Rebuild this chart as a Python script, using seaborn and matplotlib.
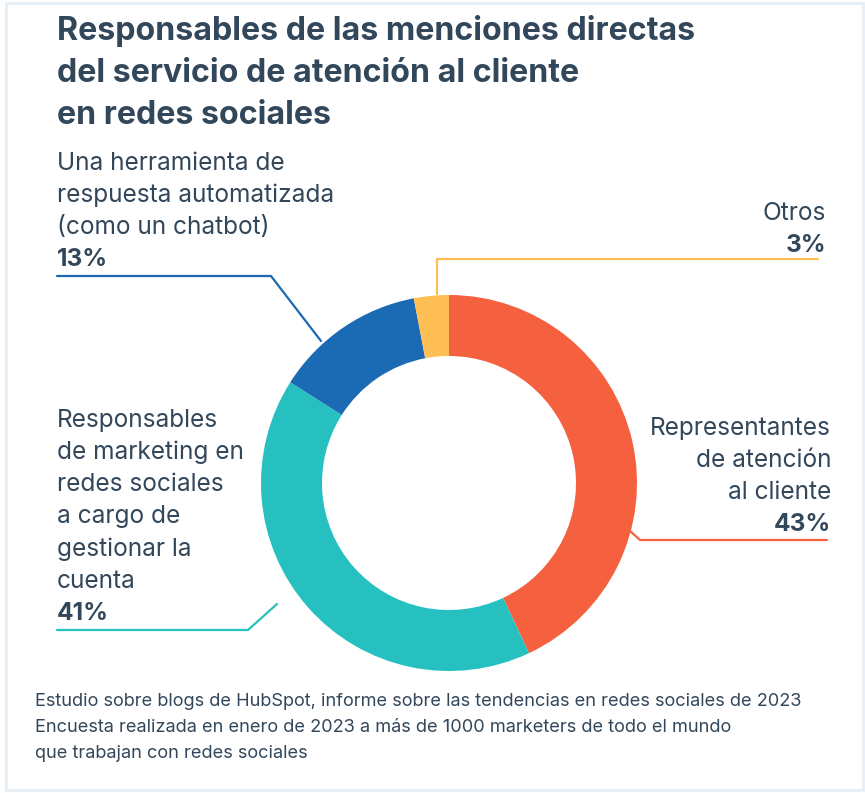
import matplotlib
matplotlib.use("Agg")
import matplotlib.pyplot as plt
import seaborn as sns
from matplotlib.patches import Rectangle

# datos del gráfico
categorias = ["Representantes de atención al cliente",
              "Responsables de marketing en redes sociales a cargo de gestionar la cuenta",
              "Una herramienta de respuesta automatizada (como un chatbot)",
              "Otros"]
valores = [43, 41, 13, 3]
colores = ["#F5603F", "#27C0C0", "#1A6AB4", "#FFBF55"]

titulo = ["Responsables de las menciones directas",
          "del servicio de atención al cliente",
          "en redes sociales"]
etiq_repr = ["Representantes", "de atención", "al cliente"]
etiq_mark = ["Responsables", "de marketing en", "redes sociales", "a cargo de",
             "gestionar la", "cuenta"]
etiq_bot = ["Una herramienta de", "respuesta automatizada", "(como un chatbot)"]
etiq_otros = ["Otros"]
fuente = ["Estudio sobre blogs de HubSpot, informe sobre las tendencias en redes sociales de 2023",
          "Encuesta realizada en enero de 2023 a más de 1000 marketers de todo el mundo",
          "que trabajan con redes sociales"]

sns.set_theme(style="white")
plt.rcParams["font.family"] = ["Inter", "DejaVu Sans"]
texto = "#33475B"

W, H = 865, 793
fig = plt.figure(figsize=(W / 100, H / 100), dpi=100)
ax = fig.add_axes([0, 0, 1, 1])

# marco de la tarjeta
ax.add_patch(Rectangle((6, 3), W - 8, H - 6, fill=False, edgecolor="#E9EFF6", lw=2.2))


def py(y):
    return H - y


# donut
ax.pie(valores, colors=colores, startangle=90, counterclock=False,
       center=(449, py(483)), radius=188, frame=True,
       wedgeprops=dict(width=188 - 127, linewidth=0))
ax.set_xlim(0, W)
ax.set_ylim(0, H)
ax.set_aspect("equal")
ax.axis("off")

# título
for i, t in enumerate(titulo):
    ax.text(57, py(31 + i * 42), t, fontsize=23.2, fontweight="bold", color=texto,
            va="center", ha="left")

fs = 17.6
paso = 32.3


def bloque(lineas, pct, x, y0, ha):
    for i, t in enumerate(lineas):
        ax.text(x, py(y0 + i * paso), t, fontsize=fs, color=texto, va="center", ha=ha)
    ax.text(x, py(y0 + len(lineas) * paso), f"{pct}%", fontsize=fs, fontweight="bold",
            color=texto, va="center", ha=ha)


bloque(etiq_bot, valores[2], 57, 163, "left")
bloque(etiq_otros, valores[3], 826, 213, "right")
bloque(etiq_repr, valores[0], 831, 428, "right")
bloque(etiq_mark, valores[1], 57, 420, "left")

# líneas guía
ax.plot([437, 437, 818], [py(294), py(259), py(259)], color=colores[3], lw=1.6)
ax.plot([57, 271, 321], [py(276), py(276), py(341)], color=colores[2], lw=1.6)
ax.plot([630, 640, 827], [py(531), py(540), py(540)], color=colores[0], lw=1.6)
ax.plot([277, 248, 57], [py(604), py(630), py(630)], color=colores[1], lw=1.6)

# fuente
for i, t in enumerate(fuente):
    ax.text(35, py(701 + i * 26), t, fontsize=13.1, color=texto, va="center", ha="left")

fig.savefig("out.png", dpi=100)
